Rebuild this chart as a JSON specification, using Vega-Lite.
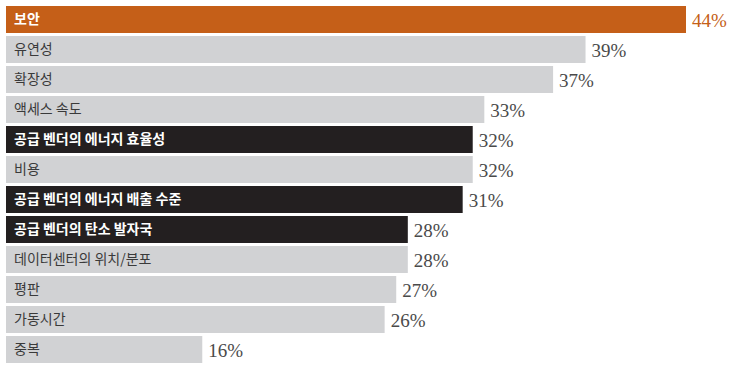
{
  "$schema": "https://vega.github.io/schema/vega-lite/v6.json",
  "width": 680,
  "height": 360,
  "padding": {"left": 6, "top": 4.5, "right": 51, "bottom": 10.5},
  "background": "white",
  "config": {"view": {"stroke": null}},
  "data": {"values": [
    {"cat": "보안", "pct": "44%", "bar": 44, "kind": "hi"},
    {"cat": "유연성", "pct": "39%", "bar": 37.5, "kind": "light"},
    {"cat": "확장성", "pct": "37%", "bar": 35.4, "kind": "light"},
    {"cat": "액세스 속도", "pct": "33%", "bar": 30.95, "kind": "light"},
    {"cat": "공급 벤더의 에너지 효율성", "pct": "32%", "bar": 30.2, "kind": "dark"},
    {"cat": "비용", "pct": "32%", "bar": 30.2, "kind": "light"},
    {"cat": "공급 벤더의 에너지 배출 수준", "pct": "31%", "bar": 29.55, "kind": "dark"},
    {"cat": "공급 벤더의 탄소 발자국", "pct": "28%", "bar": 26.0, "kind": "dark"},
    {"cat": "데이터센터의 위치/분포", "pct": "28%", "bar": 26.0, "kind": "light"},
    {"cat": "평판", "pct": "27%", "bar": 25.25, "kind": "light"},
    {"cat": "가동시간", "pct": "26%", "bar": 24.5, "kind": "light"},
    {"cat": "중복", "pct": "16%", "bar": 12.7, "kind": "light"}
  ]},
  "encoding": {
    "y": {"field": "cat", "type": "nominal", "sort": null, "axis": null,
          "scale": {"paddingInner": 0.1, "paddingOuter": 0.05}}
  },
  "layer": [
    {
      "mark": {"type": "bar"},
      "encoding": {
        "x": {"field": "bar", "type": "quantitative", "axis": null, "scale": {"domain": [0, 44], "nice": false}},
        "color": {"field": "kind", "type": "nominal", "legend": null,
                  "scale": {"domain": ["hi", "dark", "light"], "range": ["#C55F18", "#231F20", "#D1D2D4"]}}
      }
    },
    {
      "transform": [{"filter": "datum.kind != 'light'"}],
      "mark": {"type": "text", "align": "left", "baseline": "middle", "x": 8, "font": "Noto Sans CJK KR", "fontSize": 14, "fontWeight": "bold", "fill": "white"},
      "encoding": {"text": {"field": "cat"}}
    },
    {
      "transform": [{"filter": "datum.kind == 'light'"}],
      "mark": {"type": "text", "align": "left", "baseline": "middle", "x": 8, "font": "Noto Sans CJK KR", "fontSize": 14, "fill": "#3a3a3a"},
      "encoding": {"text": {"field": "cat"}}
    },
    {
      "mark": {"type": "text", "align": "left", "baseline": "middle", "dx": 6, "dy": 1, "font": "Liberation Serif", "fontSize": 19, "letterSpacing": -1.5},
      "encoding": {
        "x": {"field": "bar", "type": "quantitative"},
        "text": {"field": "pct"},
        "color": {"condition": {"test": "datum.kind == 'hi'", "value": "#C55F18"}, "value": "#4a4a4a"}
      }
    }
  ]
}
